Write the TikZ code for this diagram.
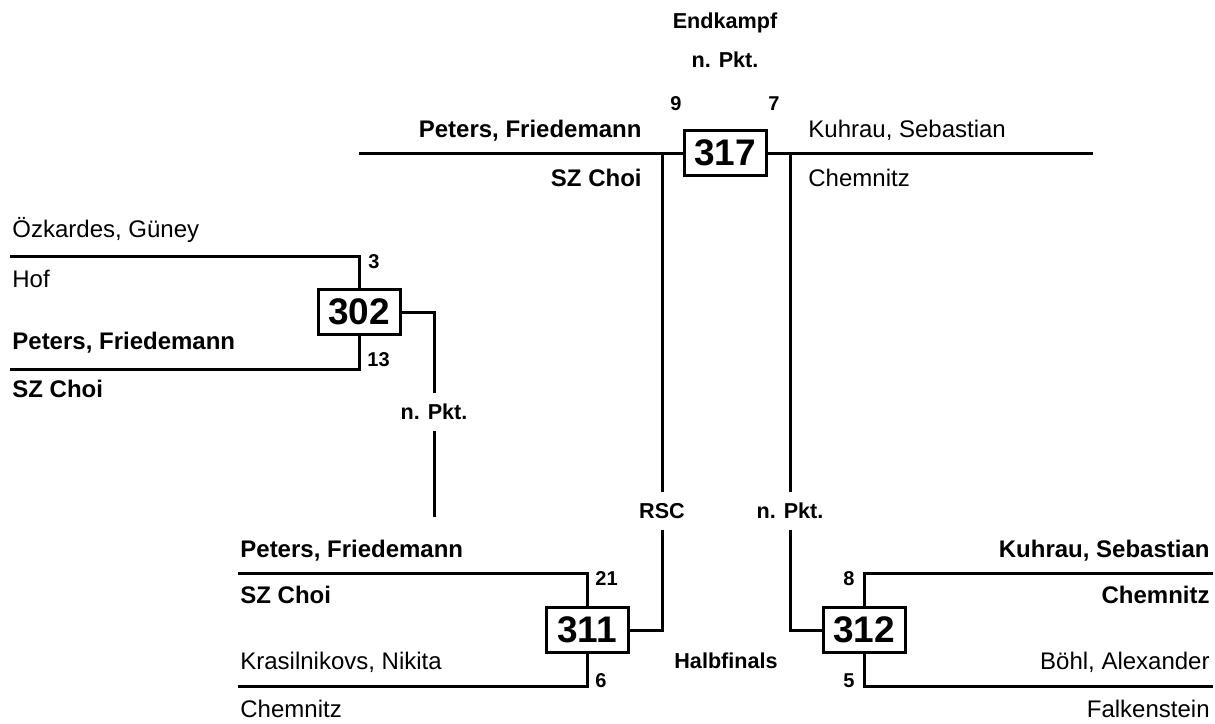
\documentclass[tikz,border=0pt]{standalone}
\usepackage{fontspec}
\setmainfont{Liberation Sans}

\begin{document}
\begin{tikzpicture}[x=0.5pt,y=0.5pt,yscale=-1,
    wire/.style={line width=1.5pt},
    kampf/.style={draw,line width=1.5pt,minimum width=41pt,minimum height=22.5pt,inner sep=0pt,font=\fontsize{18.5}{20}\selectfont\bfseries},
    nm/.style={inner sep=0pt,font=\fontsize{12}{14}\selectfont},
    nmb/.style={inner sep=0pt,font=\fontsize{12}{14}\selectfont\bfseries},
    pkt/.style={inner sep=0pt,font=\fontsize{10}{12}\selectfont\bfseries},
    titel/.style={inner sep=0pt,font=\fontsize{10.8}{12}\selectfont\bfseries},
    info/.style={fill=white,inner xsep=2pt,inner ysep=5.5pt,text height=7.7pt,text depth=0pt,font=\fontsize{10.8}{12}\selectfont\bfseries}]
    \useasboundingbox (0,0) rectangle (1215,723);

    %Shape: Boxes
    \node[kampf] (k317) at (725,153) {317};
    \node[kampf] (k302) at (359,312) {302};
    \node[kampf] (k311) at (587,630) {311};
    \node[kampf] (k312) at (864,630) {312};

    % Result labels on the lines
    \node[info] (i302) at (434,412) {n. Pkt.};
    \node[info] (i311) at (662,511) {RSC};
    \node[info] (i312) at (790,511) {n. Pkt.};

    %Line ends
    \coordinate (e317l) at (359,153);
    \coordinate (e317r) at (1093,153);
    \coordinate (v317l) at (662,153);
    \coordinate (v317r) at (790,153);
    \coordinate (e302a) at (10,256);
    \coordinate (e302b) at (10,369);
    \coordinate (e302o) at (434,517);
    \coordinate (e311a) at (238,573);
    \coordinate (e311b) at (238,686);
    \coordinate (e312a) at (1213,573);
    \coordinate (e312b) at (1213,686);

    %Straight Lines
    \draw[wire] (e317l) -- (k317.west);
    \draw[wire] (k317.east) -- (e317r);
    \draw[wire] (e302a) -| (k302.north);
    \draw[wire] (e302b) -| (k302.south);
    \draw[wire] (k302.east) -| (i302.north);
    \draw[wire] (i302.south) -- (e302o);
    \draw[wire] (e311a) -| (k311.north);
    \draw[wire] (e311b) -| (k311.south);
    \draw[wire] (k311.east) -| (i311.south);
    \draw[wire] (i311.north) -- (v317l);
    \draw[wire] (e312a) -| (k312.north);
    \draw[wire] (e312b) -| (k312.south);
    \draw[wire] (k312.west) -| (i312.south);
    \draw[wire] (i312.north) -- (v317r);

    % Text Node
    \node[titel,anchor=base] (endk) at (725,28) {Endkampf};
    \node[titel,anchor=base] (wert) at (725,67) {n. Pkt.};
    \node[titel,anchor=base] (halb) at (726,668) {Halbfinals};

    % Text Node
    \node[nmb,anchor=base east] (f1n) at (642,137) {Peters, Friedemann};
    \node[nmb,anchor=base east] (f1c) at (642,186) {SZ Choi};
    \node[nm,anchor=base west] (f2n) at (808,137) {Kuhrau, Sebastian};
    \node[nm,anchor=base west] (f2c) at (808,186) {Chemnitz};
    \node[pkt,anchor=base west] (f1p) at (670,110) {9};
    \node[pkt,anchor=base east] (f2p) at (780,110) {7};

    % Text Node
    \node[nm,anchor=base west] (a1n) at (12,237) {Özkardes, Güney};
    \node[nm,anchor=base west] (a1c) at (12,287) {Hof};
    \node[nmb,anchor=base west] (a2n) at (12,349) {Peters, Friedemann};
    \node[nmb,anchor=base west] (a2c) at (12,397) {SZ Choi};
    \node[pkt,anchor=base west] (a1p) at (368,268) {3};
    \node[pkt,anchor=base west] (a2p) at (367,366) {13};

    % Text Node
    \node[nmb,anchor=base west] (b1n) at (240,557) {Peters, Friedemann};
    \node[nmb,anchor=base west] (b1c) at (240,603) {SZ Choi};
    \node[nm,anchor=base west] (b2n) at (240,669) {Krasilnikovs, Nikita};
    \node[nm,anchor=base west] (b2c) at (240,717) {Chemnitz};
    \node[pkt,anchor=base west] (b1p) at (595,585) {21};
    \node[pkt,anchor=base west] (b2p) at (595,687) {6};

    % Text Node
    \node[nmb,anchor=base east] (c1n) at (1210,557) {Kuhrau, Sebastian};
    \node[nmb,anchor=base east] (c1c) at (1210,603) {Chemnitz};
    \node[nm,anchor=base east] (c2n) at (1210,669) {Böhl, Alexander};
    \node[nm,anchor=base east] (c2c) at (1210,717) {Falkenstein};
    \node[pkt,anchor=base east] (c1p) at (855,585) {8};
    \node[pkt,anchor=base east] (c2p) at (855,687) {5};

\end{tikzpicture}
\end{document}
